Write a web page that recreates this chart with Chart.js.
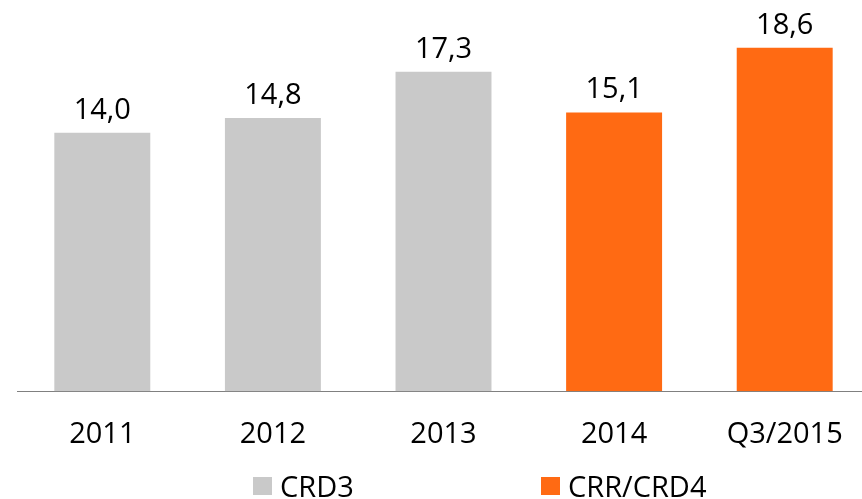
<!DOCTYPE html>
<html>
<head>
<meta charset="utf-8">
<script src="https://cdn.jsdelivr.net/npm/chart.js@4.4.0/dist/chart.umd.min.js"></script>
<style>
	html, body { margin: 0; padding: 0; background: #fff; overflow: hidden; }
	#wrap { position: relative; width: 872px; height: 499px; }
	#legend { position: absolute; top: 470px; left: 0; width: 862px; height: 30px; font-family: "Open Sans", sans-serif; font-size: 29px; color: #000; }
	.item { position: absolute; top: 0; line-height: 32px; white-space: nowrap; }
	.box { position: absolute; top: 7px; left: 0; width: 19px; height: 18px; }
	.lbl { position: absolute; top: 0; left: 27px; }
</style>
</head>
<body>
<div id="wrap">
	<canvas id="mycanvas"></canvas>
	<div id="legend"></div>
</div>
<script>
var categories = ["2011", "2012", "2013", "2014", "Q3/2015"];
var crd3Values = [14.0, 14.8, 17.3, null, null];
var crd4Values = [null, null, null, 15.1, 18.6];
var seriesNames = ["CRD3", "CRR/CRD4"];

var grey = "rgb(201, 201, 201)";
var orange = "rgb(255, 106, 19)";

function fmt(v) {
	return v.toFixed(1).replace(".", ",");
}

// value labels above bars
var valueLabels = {
	id: "valueLabels",
	afterDatasetsDraw: function(chart) {
		var ctx = chart.ctx;
		ctx.save();
		ctx.font = "29px 'Open Sans', sans-serif";
		ctx.fillStyle = "#000";
		ctx.textAlign = "center";
		ctx.textBaseline = "alphabetic";
		chart.data.datasets.forEach(function(ds, i) {
			var meta = chart.getDatasetMeta(i);
			meta.data.forEach(function(bar, j) {
				var v = ds.data[j];
				if (v === null) return;
				ctx.fillText(fmt(v), bar.x, bar.y - 14);
			});
		});
		ctx.restore();
	}
};

var chartdata = {
	labels: categories,
	datasets: [
		{
			label: seriesNames[0],
			backgroundColor: grey,
			data: crd3Values
		},
		{
			label: seriesNames[1],
			backgroundColor: orange,
			data: crd4Values
		}
	]
};

var ctx = document.getElementById("mycanvas");

var BarGraph = new Chart(ctx, {
	type: "bar",
	data: chartdata,
	plugins: [valueLabels],
	options: {
		responsive: true,
		maintainAspectRatio: false,
		animation: false,
		categoryPercentage: 1,
		barPercentage: 0.5625,
		layout: {
			padding: { left: 17, right: 2, top: 22, bottom: 21 }
		},
		plugins: {
			legend: { display: false },
			tooltip: { enabled: false }
		},
		scales: {
			x: {
				stacked: true,
				grid: { display: false, drawTicks: false },
				border: { display: true, color: "#808080", width: 1 },
				ticks: {
					color: "#000",
					padding: 26,
					font: { family: "'Open Sans', sans-serif", size: 29 }
				}
			},
			y: {
				stacked: true,
				display: false,
				min: 0,
				max: 20
			}
		}
	}
});

// legend
var legend = document.getElementById("legend");
var legendPos = [253, 541];
[grey, orange].forEach(function(c, i) {
	var item = document.createElement("div");
	item.className = "item";
	item.style.left = legendPos[i] + "px";
	item.innerHTML = '<span class="box" style="background:' + c + '"></span><span class="lbl">' + seriesNames[i] + '</span>';
	legend.appendChild(item);
});
</script>
</body>
</html>
